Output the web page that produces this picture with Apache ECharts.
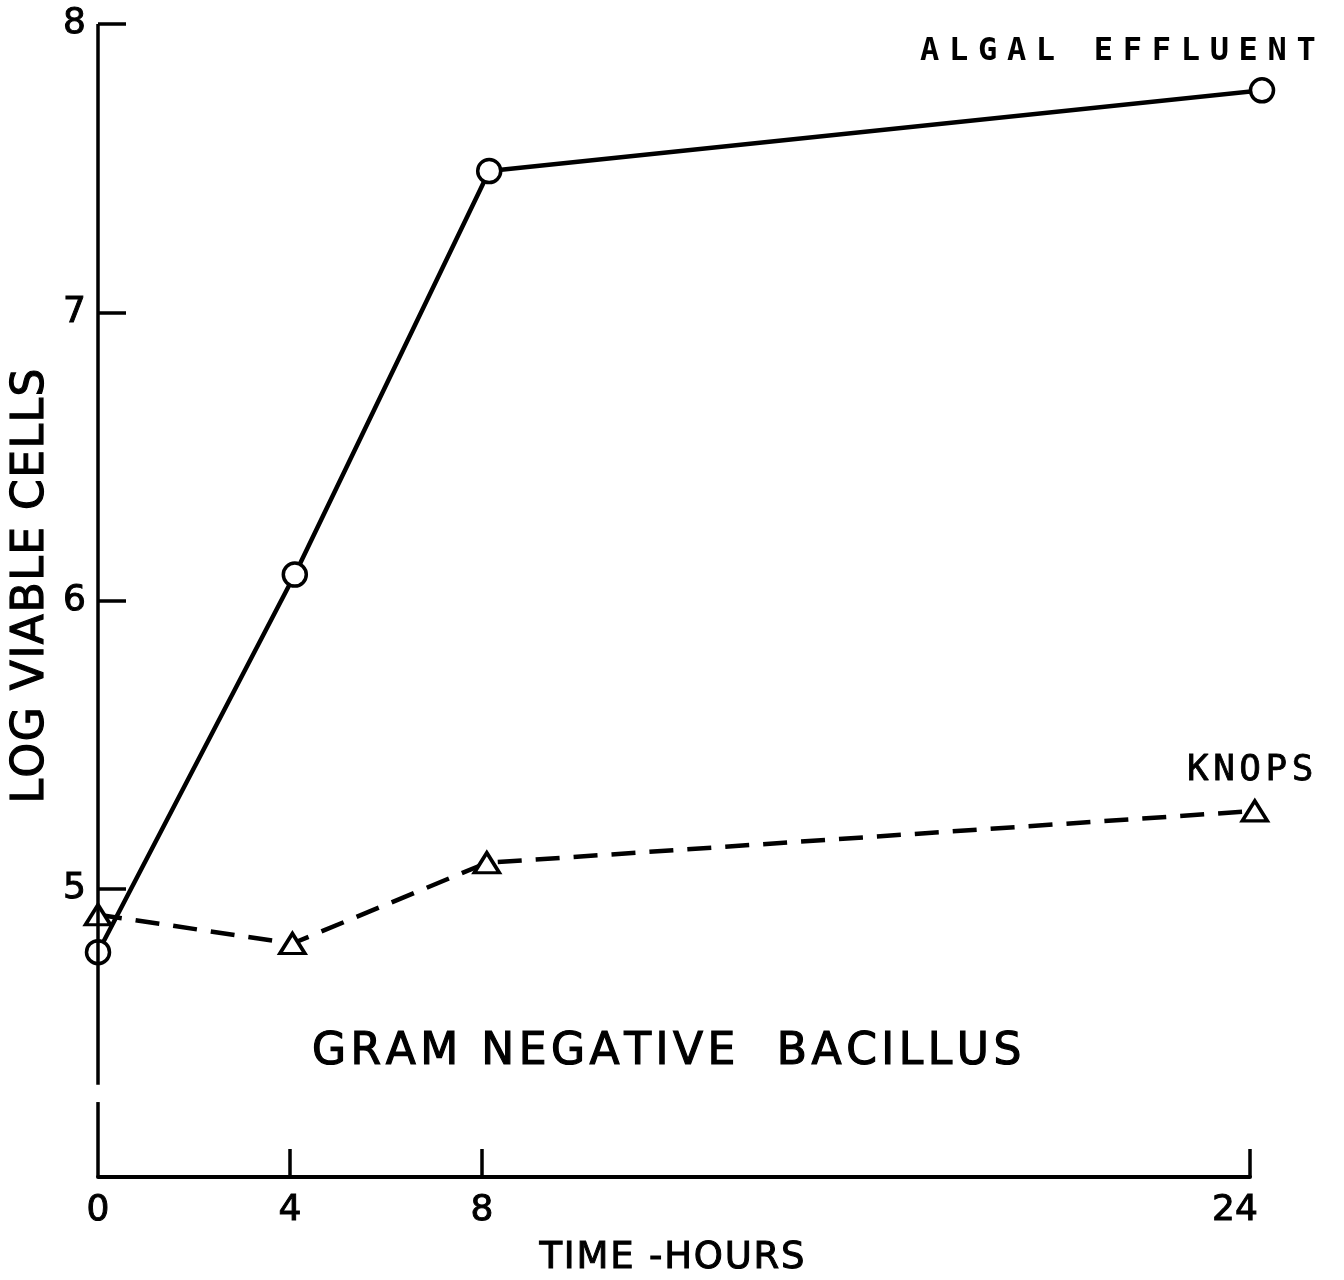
<!DOCTYPE html>
<html>
<head>
<meta charset="utf-8">
<script src="https://cdn.jsdelivr.net/npm/echarts@6/dist/echarts.min.js"></script>
<style>
html,body{margin:0;padding:0;background:#fff;}
#chart{width:1344px;height:1280px;}
</style>
</head>
<body>
<div id="chart"></div>
<script>
// ---- data ----
var algalHours = [0, 4.1, 8.15, 24.25];
var algalLog   = [4.78, 6.09, 7.49, 7.77];
var knopsHours = [0, 4.05, 8.1, 24.1];
var knopsLog   = [4.91, 4.81, 5.09, 5.27];
var xTickValues = [0, 4, 8, 24];
var yTickValues = [5, 6, 7, 8];
var yAxisBreak = [4.26, 4.32];   // gap in the vertical axis line

var xTitle = 'TIME -HOURS';
var yTitle = 'LOG VIABLE CELLS';
var panelTitle = 'GRAM NEGATIVE BACILLUS';
var algalName = 'ALGAL EFFLUENT';
var knopsName = 'KNOPS';

var SANS = '"DejaVu Sans", "Liberation Sans", sans-serif';
var MONO = '"DejaVu Sans Mono", "Liberation Mono", monospace';

// letter-spaced text helper (measures glyphs so spacing can be added)
var measureCtx = document.createElement('canvas').getContext('2d');
function spacedText(str, font, spacing, anchor, strokeW) {
  measureCtx.font = font;
  var chars = str.split('');
  var widths = chars.map(function (c) { return measureCtx.measureText(c).width; });
  var total = widths.reduce(function (a, b) { return a + b; }, 0) + spacing * (chars.length - 1);
  var x = anchor === 'center' ? -total / 2 : 0;
  var children = [];
  chars.forEach(function (c, i) {
    if (c !== ' ') {
      children.push({
        type: 'text',
        style: { text: c, x: x, y: 0, font: font, fill: '#000', stroke: '#000', lineWidth: strokeW || 0,
                 textAlign: 'left', textVerticalAlign: 'middle' }
      });
    }
    x += widths[i] + spacing;
  });
  return children;
}

var chart = echarts.init(document.getElementById('chart'), null, { renderer: 'canvas' });

var option = {
  animation: false,
  backgroundColor: '#fff',
  grid: { left: 98, right: 94, top: 24, bottom: 103 },
  xAxis: {
    type: 'value', min: 0, max: 24,
    axisLine: { show: true, lineStyle: { color: '#000', width: 4 } },
    axisTick: { show: true, inside: true, length: 28, customValues: [4, 8, 24], lineStyle: { color: '#000', width: 3.5 } },
    axisLabel: {
      customValues: xTickValues, margin: 16, color: '#000', fontFamily: SANS, fontSize: 36,
      textBorderColor: '#000', textBorderWidth: 1,
      formatter: function (v) { return v === 24 ? '{s|24}' : String(v); },
      rich: { s: { fontFamily: SANS, fontSize: 36, color: '#000', textBorderColor: '#000', textBorderWidth: 1, padding: [0, 30, 0, 0] } }
    },
    splitLine: { show: false }
  },
  yAxis: {
    type: 'value', min: 4, max: 8,
    axisLine: { show: false },
    axisTick: { show: true, inside: true, length: 28, customValues: yTickValues, lineStyle: { color: '#000', width: 3.5 } },
    axisLabel: { customValues: yTickValues, margin: 12, color: '#000', fontFamily: SANS, fontSize: 36,
                 textBorderColor: '#000', textBorderWidth: 1 },
    splitLine: { show: false }
  },
  series: [
    {
      name: algalName,
      type: 'line',
      clip: false,
      data: algalHours.map(function (h, i) { return [h, algalLog[i]]; }),
      symbol: 'circle', symbolSize: 23,
      lineStyle: { color: '#000', width: 4.5, type: 'solid' },
      itemStyle: { color: '#fff', borderColor: '#000', borderWidth: 3.5 },
      emphasis: { disabled: true },
      z: 3,
      markLine: {
        silent: true,
        symbol: ['none', 'none'],
        label: { show: false },
        lineStyle: { color: '#000', width: 3.5, type: 'solid' },
        emphasis: { disabled: true },
        data: [
          [{ coord: [0, 8] }, { coord: [0, yAxisBreak[1]] }],
          [{ coord: [0, yAxisBreak[0]] }, { coord: [0, 4] }]
        ]
      }
    },
    {
      name: knopsName,
      type: 'line',
      clip: false,
      data: knopsHours.map(function (h, i) { return [h, knopsLog[i]]; }),
      symbol: 'triangle', symbolSize: [25, 20],
      lineStyle: { color: '#000', width: 4.5, type: [24, 14] },
      itemStyle: { color: '#fff', borderColor: '#000', borderWidth: 3.5 },
      emphasis: { disabled: true },
      z: 4
    }
  ],
  graphic: [
    { type: 'group', x: 672, y: 1258, children: spacedText(xTitle, '37px ' + SANS, 1.8, 'center', 1) },
    { type: 'group', x: 32, y: 586, rotation: Math.PI / 2, children: spacedText(yTitle, '44px ' + SANS, 1.5, 'center', 1.2) },
    { type: 'group', x: 312, y: 1053, children: spacedText(panelTitle.replace('NEGATIVE ', 'NEGATIVE  '), '44px ' + SANS, 4.5, 'left', 1.2) },
    { type: 'group', x: 920, y: 52, children: spacedText(algalName, 'bold 32px ' + MONO, 9.7, 'left', 0) },
    { type: 'group', x: 1187, y: 771, children: spacedText(knopsName, '36px ' + MONO, 4.5, 'left', 0.8) }
  ]
};

chart.setOption(option);
</script>
</body>
</html>
